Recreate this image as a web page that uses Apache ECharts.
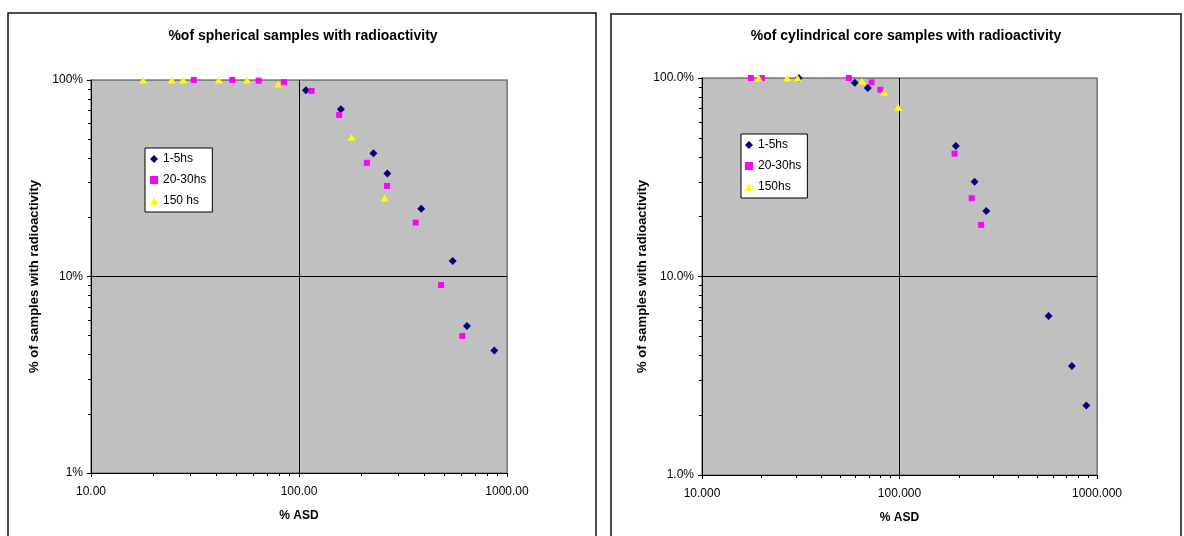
<!DOCTYPE html>
<html>
<head>
  <meta charset="utf-8">
  <title>radioactivity samples</title>
  <script src="https://cdn.jsdelivr.net/npm/echarts@6/dist/echarts.min.js"></script>
  <style>
    html, body { margin: 0; padding: 0; background: #fff; }
    #main { width: 1184px; height: 536px; }
  </style>
</head>
<body>
  <div id="main"></div>
  <script>
    // [% ASD, % of samples]
    var sph_1_5hs = [[108, 88.6], [159, 70.9], [228, 42.4], [266, 33.4], [387, 22.1], [548, 12.0], [642, 5.6], [869, 4.2]];
    var sph_20_30hs = [[31.2, 100], [47.8, 100], [64, 99.2], [84.7, 97.5], [115, 88], [156, 66.4], [212, 37.9], [265, 28.9], [364, 18.8], [482, 9.05], [610, 4.98]];
    var sph_150hs = [[17.8, 100], [24.4, 100], [27.7, 100], [41.1, 100], [56.2, 100], [79.5, 95.4], [179, 51.1], [258, 25.1]];

    var cyl_1_5hs = [[30.9, 100], [59.4, 94.7], [69.1, 89.1], [193, 45.4], [240, 30.0], [275, 21.4], [569, 6.32], [746, 3.54], [883, 2.24]];
    var cyl_20_30hs = [[17.7, 100], [20.1, 100], [55.4, 100], [72.2, 95.1], [80.1, 87.3], [190, 41.6], [232, 24.8], [259, 18.2]];
    var cyl_150hs = [[19.4, 100], [27.0, 100], [30.5, 100], [64.5, 96.2], [83.6, 85.0], [98.4, 71.2]];

    var minorX = [20, 30, 40, 50, 60, 70, 80, 90, 200, 300, 400, 500, 600, 700, 800, 900];
    var minorY = [2, 3, 4, 5, 6, 7, 8, 9, 20, 30, 40, 50, 60, 70, 80, 90];

    var FONT = 'Arial, "Liberation Sans", sans-serif';

    var chart = echarts.init(document.getElementById('main'));

    function mainX(grid, digits) {
      return {
        type: 'log', logBase: 10, gridIndex: grid, min: 10, max: 1000, position: 'bottom',
        name: '% ASD', nameLocation: 'middle', nameGap: 37,
        nameTextStyle: { fontFamily: FONT, fontSize: 12, fontWeight: 'bold', color: '#000' },
        axisLine: { lineStyle: { color: '#000', width: 1 } },
        axisTick: { show: true, length: 4, lineStyle: { color: '#000' } },
        axisLabel: {
          fontFamily: FONT, fontSize: 12, color: '#000', margin: 13,
          formatter: function (v) { return (+v).toFixed(digits); }
        },
        splitLine: { show: true, lineStyle: { color: ['#000', '#000', '#808080'], width: 1 } }
      };
    }
    function minorXAxis(grid) {
      return {
        type: 'log', logBase: 10, gridIndex: grid, min: 10, max: 1000, position: 'bottom',
        axisLine: { show: false },
        axisTick: { show: true, length: 3, customValues: minorX, lineStyle: { color: '#000' } },
        axisLabel: { show: false },
        splitLine: { show: false }
      };
    }
    function mainY(grid, fmt) {
      return {
        type: 'log', logBase: 10, gridIndex: grid, min: 1, max: 100, position: 'left',
        name: '% of samples with radioactivity', nameLocation: 'middle', nameGap: 50, nameRotate: 90,
        nameTextStyle: { fontFamily: FONT, fontSize: 13, fontWeight: 'bold', color: '#000' },
        axisLine: { lineStyle: { color: '#000', width: 1 } },
        axisTick: { show: true, length: 4, lineStyle: { color: '#000' } },
        axisLabel: { fontFamily: FONT, fontSize: 12, color: '#000', margin: 8, formatter: fmt },
        splitLine: { show: true, lineStyle: { color: ['#000', '#000', '#808080'], width: 1 } }
      };
    }
    function minorYAxis(grid) {
      return {
        type: 'log', logBase: 10, gridIndex: grid, min: 1, max: 100, position: 'left',
        axisLine: { show: false },
        axisTick: { show: true, length: 3, customValues: minorY, lineStyle: { color: '#000' } },
        axisLabel: { show: false },
        splitLine: { show: false }
      };
    }

    function scat(name, data, x, y, symbol, size, color) {
      return {
        name: name, type: 'scatter', xAxisIndex: x, yAxisIndex: y, data: data,
        symbol: symbol, symbolSize: size, clip: false,
        itemStyle: { color: color, opacity: 1 },
        emphasis: { disabled: true }
      };
    }

    function legendBox(left, top, names, pad) {
      return {
        orient: 'vertical', left: left, top: top,
        backgroundColor: '#fff', borderColor: '#000', borderWidth: 1,
        padding: pad, itemGap: 9, itemWidth: 8, itemHeight: 8,
        textStyle: { fontFamily: FONT, fontSize: 12, color: '#000' },
        data: [
          { name: names[0], icon: 'diamond' },
          { name: names[1], icon: 'rect' },
          { name: names[2], icon: 'triangle' }
        ],
        selectedMode: false
      };
    }

    var option = {
      animation: false,
      backgroundColor: '#fff',
      title: [
        {
          text: '%of spherical samples with radioactivity', left: 303, top: 29, textAlign: 'center', padding: 0,
          textStyle: { fontFamily: FONT, fontSize: 14, fontWeight: 'bold', color: '#000' }
        },
        {
          text: '%of cylindrical core samples with radioactivity', left: 906, top: 29, textAlign: 'center', padding: 0,
          textStyle: { fontFamily: FONT, fontSize: 14, fontWeight: 'bold', color: '#000' }
        }
      ],
      graphic: [
        { type: 'rect', shape: { x: 8, y: 13, width: 588, height: 560 }, style: { fill: 'none', stroke: '#111', lineWidth: 1.5 } },
        { type: 'rect', shape: { x: 611, y: 14, width: 570, height: 560 }, style: { fill: 'none', stroke: '#111', lineWidth: 1.5 } }
      ],
      legend: [
        legendBox(145, 148, ['1-5hs', '20-30hs', '150 hs'], [5, 6, 5, 5]),
        legendBox(741, 134, ['1-5hs', '20-30hs', '150hs'], [5, 6, 5, 4])
      ],
      grid: [
        { left: 91, top: 80, width: 416, height: 393, show: true, backgroundColor: '#c0c0c0', borderColor: '#808080', borderWidth: 1.5 },
        { left: 702, top: 78, width: 395, height: 397, show: true, backgroundColor: '#c0c0c0', borderColor: '#808080', borderWidth: 1.5 }
      ],
      xAxis: [mainX(0, 2), minorXAxis(0), mainX(1, 3), minorXAxis(1)],
      yAxis: [
        mainY(0, function (v) { return Math.round(v) + '%'; }),
        minorYAxis(0),
        mainY(1, function (v) { return (+v).toFixed(1) + '%'; }),
        minorYAxis(1)
      ],
      series: [
        scat('1-5hs', sph_1_5hs, 0, 0, 'diamond', 8, '#000080'),
        scat('20-30hs', sph_20_30hs, 0, 0, 'rect', 6, '#ff00ff'),
        scat('150 hs', sph_150hs, 0, 0, 'triangle', [8, 7], '#ffff00'),
        scat('1-5hs', cyl_1_5hs, 2, 2, 'diamond', 8, '#000080'),
        scat('20-30hs', cyl_20_30hs, 2, 2, 'rect', 6, '#ff00ff'),
        scat('150hs', cyl_150hs, 2, 2, 'triangle', [8, 7], '#ffff00')
      ]
    };

    chart.setOption(option);
  </script>
</body>
</html>
